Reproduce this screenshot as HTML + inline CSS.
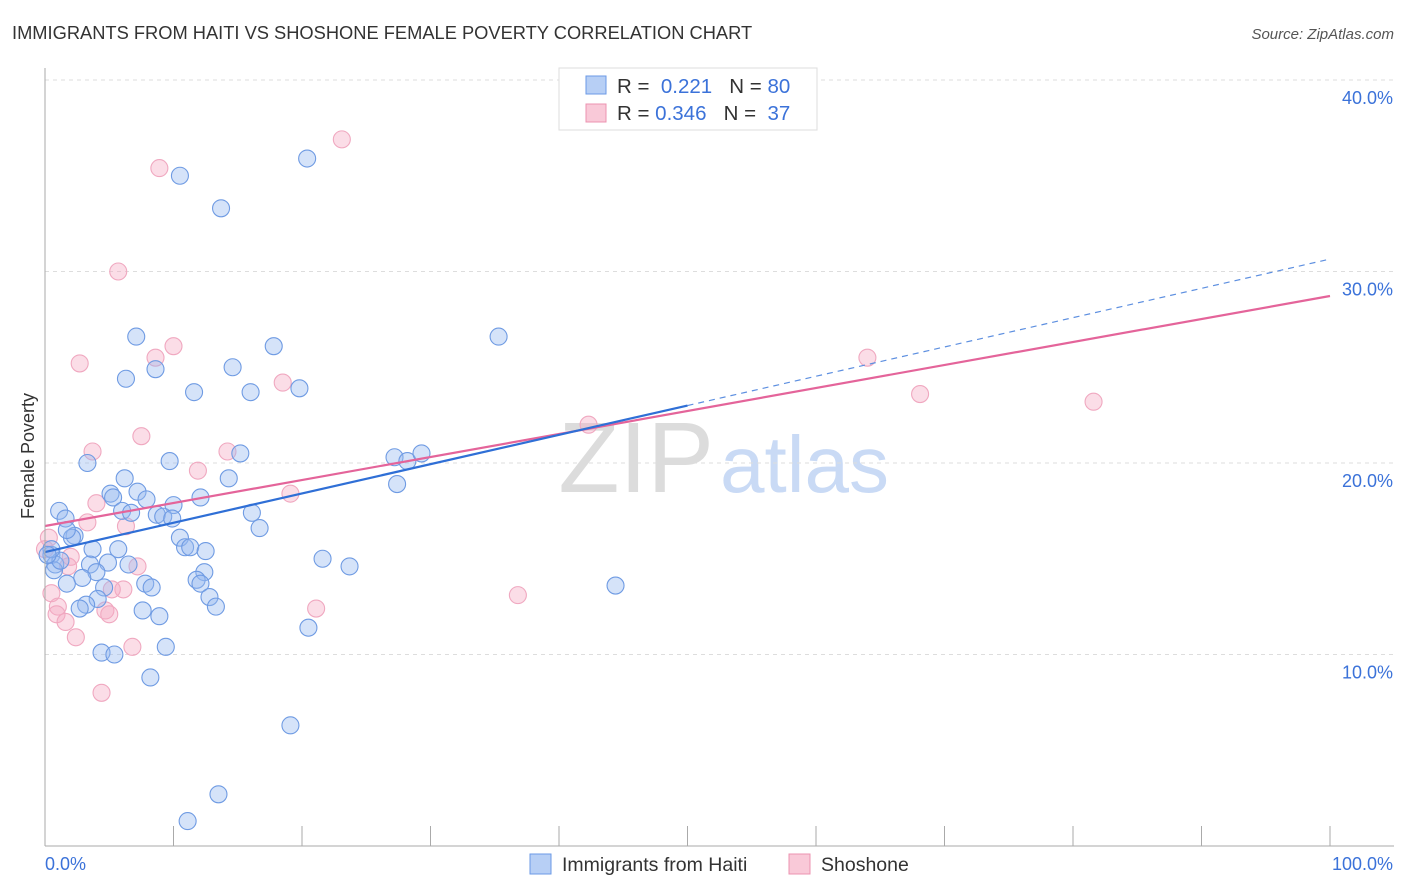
<!DOCTYPE html>
<html><head><meta charset="utf-8"><style>
body{margin:0;background:#fff;font-family:"Liberation Sans",sans-serif;}
#wrap{position:relative;width:1406px;height:892px;overflow:hidden;}
svg text{font-family:"Liberation Sans",sans-serif;}
</style></head><body>
<div id="wrap">
<svg id="chart" width="1406" height="892">
<text x="12" y="39" font-size="18.3" fill="#333">IMMIGRANTS FROM HAITI VS SHOSHONE FEMALE POVERTY CORRELATION CHART</text>
<text x="1394" y="39" font-size="15" fill="#555" font-style="italic" text-anchor="end">Source: ZipAtlas.com</text>
<text x="714" y="492" font-size="100" fill="#dcdcdc" text-anchor="end" font-family="Liberation Serif">ZIP</text>
<text x="720" y="492" font-size="80" fill="#c9daf5">atlas</text>
<text x="34" y="456" font-size="18" fill="#333" text-anchor="middle" transform="rotate(-90 34 456)">Female Poverty</text>
<g id="grid"></g><g id="pts"></g><g id="lines"></g>
<line x1="45" y1="68" x2="45" y2="846" stroke="#aaa"/>
<line x1="45" y1="846" x2="1394" y2="846" stroke="#aaa"/>
<text x="45" y="870" font-size="18" fill="#3b72d9">0.0%</text>
<text x="1393" y="870" font-size="18" fill="#3b72d9" text-anchor="end">100.0%</text>
<g>
<rect x="559" y="68" width="258" height="62" fill="#fff" stroke="#ddd"/>
<rect x="586" y="76" width="20" height="18" fill="#b7cff5" stroke="#6b9ae6"/>
<rect x="586" y="104" width="20" height="18" fill="#f9c9d8" stroke="#ec93b0"/>
<text x="617" y="93" font-size="20.5" fill="#333">R = <tspan fill="#3b72d9">&#160;0.221</tspan>&#160;&#160;&#160;N = <tspan fill="#3b72d9">80</tspan></text>
<text x="617" y="120" font-size="20.5" fill="#333">R = <tspan fill="#3b72d9">0.346</tspan>&#160;&#160;&#160;N = <tspan fill="#3b72d9">&#160;37</tspan></text>
</g>
<g>
<rect x="530" y="854" width="21" height="20" fill="#b7cff5" stroke="#6b9ae6"/>
<text x="562" y="871" font-size="19.5" fill="#333">Immigrants from Haiti</text>
<rect x="789" y="854" width="21" height="20" fill="#f9c9d8" stroke="#ec93b0"/>
<text x="821" y="871" font-size="19.5" fill="#333">Shoshone</text>
</g>
</svg></div>
<script>
const yTicks=[10,20,30,40];
const yTickLabels=["10.0%","20.0%","30.0%","40.0%"];
const xTicks=[10,20,30,40,50,60,70,80,90,100];
const haitiX=[20.4,10.5,13.7,7.1,35.3,17.8,6.3,14.6,8.6,11.6,16.0,19.8,15.2,27.2,28.2,29.3,3.3,9.7,14.3,6.2,27.4,5.1,7.2,5.3,7.9,1.1,6.0,6.7,10.0,12.1,16.1,8.7,9.2,9.9,1.6,2.3,2.1,16.7,10.5,1.7,10.9,11.3,12.5,3.7,5.7,21.6,23.7,0.5,0.8,0.7,1.2,3.5,4.9,6.5,4.0,2.9,12.4,11.8,12.1,7.8,8.3,1.7,4.6,12.8,4.1,3.2,2.7,7.6,8.9,13.3,44.4,20.5,9.4,4.4,5.4,8.2,19.1,13.5,11.1,0.5,0.2];
const haitiY=[35.9,35.0,33.3,26.6,26.6,26.1,24.4,25.0,24.9,23.7,23.7,23.9,20.5,20.3,20.1,20.5,20.0,20.1,19.2,19.2,18.9,18.4,18.5,18.2,18.1,17.5,17.5,17.4,17.8,18.2,17.4,17.3,17.2,17.1,17.1,16.2,16.1,16.6,16.1,16.5,15.6,15.6,15.4,15.5,15.5,15.0,14.6,15.2,14.7,14.4,14.9,14.7,14.8,14.7,14.3,14.0,14.3,13.9,13.7,13.7,13.5,13.7,13.5,13.0,12.9,12.6,12.4,12.3,12.0,12.5,13.6,11.4,10.4,10.1,10.0,8.8,6.3,2.7,1.3,15.5,15.2];
const shoX=[23.1,8.9,5.7,10.0,8.6,2.7,64.0,18.5,68.1,81.6,42.3,7.5,3.7,14.2,11.9,19.1,4.0,3.3,6.3,0.3,2.0,1.8,7.2,6.1,5.2,0.5,36.8,21.1,4.7,1.0,5.0,0.9,1.6,2.4,6.8,4.4,0.0];
const shoY=[36.9,35.4,30.0,26.1,25.5,25.2,25.5,24.2,23.6,23.2,22.0,21.4,20.6,20.6,19.6,18.4,17.9,16.9,16.7,16.1,15.1,14.6,14.6,13.4,13.4,13.2,13.1,12.4,12.3,12.5,12.1,12.1,11.7,10.9,10.4,8.0,15.5];
const haitiTrend=[15.35,30.65];
const haitiSolidEnd=50;
const shoTrend=[16.71,28.72];
const NS="http://www.w3.org/2000/svg";
const sx=v=>45+v*12.85, sy=v=>846-v*19.15;
function mk(tag,attrs,parent){const e=document.createElementNS(NS,tag);for(const k in attrs)e.setAttribute(k,attrs[k]);parent.appendChild(e);return e;}
const grid=document.getElementById('grid');
yTicks.forEach((t,i)=>{
 const l=mk('line',{x1:45,x2:1394,y1:sy(t),y2:sy(t),stroke:'#ddd','stroke-dasharray':'4,4'},grid);
 
 
 const tx=mk('text',{x:1393,y:sy(t)+24,'font-size':18,fill:'#3b72d9','text-anchor':'end'},grid);
 tx.textContent=yTickLabels[i];
 
 
});
xTicks.forEach(t=>{
 const l=mk('line',{x1:sx(t),x2:sx(t),y1:826,y2:846,stroke:'#aaa'},grid);
 
 
});
const pts=document.getElementById('pts');
shoX.forEach((x,i)=>{
 const c=mk('circle',{cx:sx(x),cy:sy(shoY[i]),r:8.5,fill:'rgba(246,170,195,0.4)',stroke:'#f0a8c0','stroke-width':1.1},pts);
 
 
});
haitiX.forEach((x,i)=>{
 const c=mk('circle',{cx:sx(x),cy:sy(haitiY[i]),r:8.5,fill:'rgba(150,185,240,0.4)',stroke:'#6f9be3','stroke-width':1.1},pts);
 
 
});
const lines=document.getElementById('lines');
const hy=x=>haitiTrend[0]+(haitiTrend[1]-haitiTrend[0])*x/100;
const sl=mk('line',{x1:sx(0),y1:sy(shoTrend[0]),x2:sx(100),y2:sy(shoTrend[1]),stroke:'#e4649a','stroke-width':2.2},lines);


const h1=mk('line',{x1:sx(0),y1:sy(hy(0)),x2:sx(haitiSolidEnd),y2:sy(hy(haitiSolidEnd)),stroke:'#2f6fd6','stroke-width':2.2},lines);


const h2=mk('line',{x1:sx(haitiSolidEnd),y1:sy(hy(haitiSolidEnd)),x2:sx(100),y2:sy(hy(100)),stroke:'#5d8fe0','stroke-width':1.2,'stroke-dasharray':'6,5'},lines);


</script>
</body></html>
